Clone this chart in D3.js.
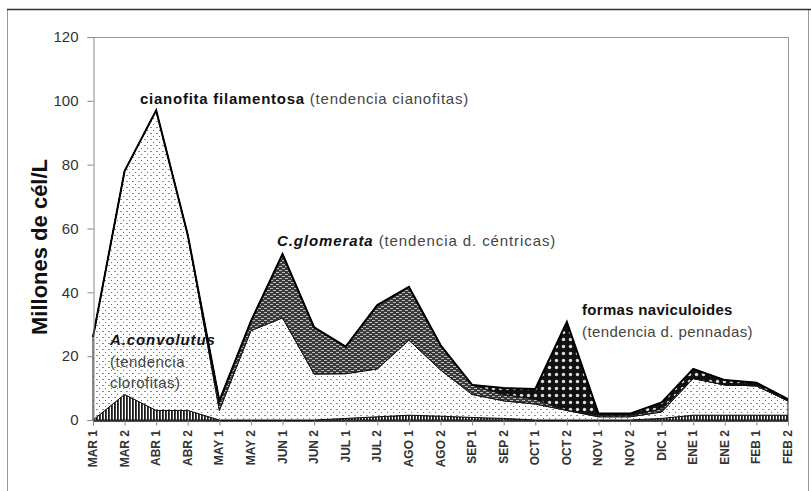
<!DOCTYPE html>
<html><head><meta charset="utf-8">
<script src="https://cdn.jsdelivr.net/npm/d3@7"></script>
<style>body{margin:0;background:#fff}svg{display:block;font-family:"Liberation Sans",Arial,sans-serif}</style>
</head><body><svg id="c" width="811" height="491"></svg>
<script>
const categories = ["MAR 1","MAR 2","ABR 1","ABR 2","MAY 1","MAY 2","JUN 1","JUN 2","JUL 1","JUL 2","AGO 1","AGO 2","SEP 1","SEP 2","OCT 1","OCT 2","NOV 1","NOV 2","DIC 1","ENE 1","ENE 2","FEB 1","FEB 2"];
const convolutus   = [0,8,3,3,0,0,0,0,0.5,1,1.5,1.2,0.8,0.5,0,0,0,0,0.5,1.5,1.5,1.5,1.5];
const cianofita    = [26,70,94,55,3,28,32,14.4,14,15,23.5,14.5,7.2,5.5,5,3,1,1,2,11.5,9.5,9.2,4.5];
const glomerata    = [0,0,0,0,3,3,20,14.6,8.5,20,16.7,7.8,3,2,1.5,0,0.5,0.5,1,0,0,0,0];
const naviculoides = [0,0,0,0,0,0,0,0,0,0,0,0,0,2,3.2,27.7,0.5,0.5,2,3,1.5,1,0.5];
const yTicks = [0,20,40,60,80,100,120];

const keys = ["convolutus","cianofita","glomerata","naviculoides"];
const seriesArr = {convolutus, cianofita, glomerata, naviculoides};
const rows = categories.map((c,i)=>{const r={cat:c}; keys.forEach(k=>r[k]=seriesArr[k][i]); return r;});

const svg = d3.select("#c");
const defs = svg.append("defs");
let p = defs.append("pattern").attr("id","pStripe").attr("patternUnits","userSpaceOnUse").attr("width",3).attr("height",4);
p.append("rect").attr("width",3).attr("height",4).attr("fill","#fff");
p.append("rect").attr("width",1.8).attr("height",4).attr("fill","#1a1a1a");
p = defs.append("pattern").attr("id","pDot").attr("patternUnits","userSpaceOnUse").attr("width",6).attr("height",6);
p.append("rect").attr("width",6).attr("height",6).attr("fill","#fff");
p.append("rect").attr("x",0).attr("y",1).attr("width",2).attr("height",1).attr("fill","#8a8a8a");
p.append("rect").attr("x",3).attr("y",4).attr("width",1).attr("height",1).attr("fill","#666");
p = defs.append("pattern").attr("id","pHatch").attr("patternUnits","userSpaceOnUse").attr("width",6).attr("height",4);
p.append("rect").attr("width",6).attr("height",4).attr("fill","#3a3a3a");
p.append("rect").attr("x",0).attr("y",0).attr("width",3).attr("height",1).attr("fill","#bbb");
p.append("rect").attr("x",3).attr("y",2).attr("width",3).attr("height",1).attr("fill","#bbb");
p = defs.append("pattern").attr("id","pCirc").attr("patternUnits","userSpaceOnUse").attr("width",7).attr("height",7);
p.append("rect").attr("width",7).attr("height",7).attr("fill","#111");
p.append("circle").attr("cx",3.5).attr("cy",3.5).attr("r",1.7).attr("fill","#ddd");
const fills = {convolutus:"url(#pStripe)", cianofita:"url(#pDot)", glomerata:"url(#pHatch)", naviculoides:"url(#pCirc)"};

svg.append("rect").attr("x",7.5).attr("y",9.5).attr("width",801).attr("height",495).attr("fill","none").attr("stroke","#999");
svg.append("line").attr("x1",7).attr("x2",811).attr("y1",9.5).attr("y2",9.5).attr("stroke","#333").attr("stroke-width",1.5);

const x = d3.scalePoint().domain(categories).range([93,788]).padding(0);
const y = d3.scaleLinear().domain([0,120]).range([420,37]);

const layers = d3.stack().keys(keys)(rows);
const area = d3.area().x(d=>x(d.data.cat)).y0(d=>y(d[0])).y1(d=>y(d[1]));
svg.append("g").selectAll("path").data(layers).join("path")
  .attr("d",area).attr("fill",d=>fills[d.key]).attr("stroke","#111").attr("stroke-width",1);
const topLayer = layers[layers.length-1];
svg.append("path").datum(topLayer).attr("d",d3.line().x(d=>x(d.data.cat)).y(d=>y(d[1])))
  .attr("fill","none").attr("stroke","#000").attr("stroke-width",2);

svg.append("line").attr("x1",93).attr("x2",788.5).attr("y1",37.5).attr("y2",37.5).attr("stroke","#999");
svg.append("line").attr("x1",788.5).attr("x2",788.5).attr("y1",37).attr("y2",420).attr("stroke","#999");

const ya = svg.append("g").attr("transform","translate(93.5,0)")
  .call(d3.axisLeft(y).tickValues(yTicks).tickSize(6).tickPadding(9));
ya.select(".domain").attr("stroke","#888");
ya.selectAll(".tick line").attr("stroke","#888");
ya.selectAll("text").attr("font-size",15).attr("fill","#333").attr("font-family","Liberation Sans, Arial, sans-serif");

const xa = svg.append("g").attr("transform","translate(0,420.5)")
  .call(d3.axisBottom(x).tickSize(5).tickSizeOuter(0).tickFormat(()=>""));
xa.select(".domain").attr("stroke","#111").attr("stroke-width",1.5);
xa.selectAll(".tick line").attr("stroke","#888");
svg.append("g").selectAll("text").data(categories).join("text")
  .attr("transform",d=>`translate(${x(d)+4},430) rotate(-90)`)
  .attr("text-anchor","end").attr("font-size",12).attr("font-weight","bold").attr("fill","#333")
  .attr("font-family","Liberation Sans Narrow, Liberation Sans, Arial, sans-serif")
  .text(d=>d);

svg.append("text").attr("transform","translate(47,247) rotate(-90)").attr("text-anchor","middle")
  .attr("font-size",22).attr("font-weight","bold").attr("fill","#111").text("Millones de cél/L");

function ann(xp, yp, parts, ls){
  const t = svg.append("text").attr("x",xp).attr("y",yp).attr("font-size",15).attr("fill","#222")
    .attr("letter-spacing",ls);
  parts.forEach(pp=>{
    t.append("tspan").text(pp.t).attr("font-weight",pp.b?"bold":"normal").attr("font-style",pp.i?"italic":"normal")
      .attr("fill",pp.b?"#111":"#444");
  });
}
ann(140,104,[{t:"cianofita filamentosa",b:1},{t:" (tendencia cianofitas)"}],0.75);
ann(277,246,[{t:"C.glomerata",b:1,i:1},{t:"  (tendencia d. céntricas)"}],0.9);
ann(110,345,[{t:"A.convolutus",b:1,i:1}],0.9);
ann(110,367,[{t:"(tendencia"}],0.5);
ann(110,388,[{t:"clorofitas)"}],0.5);
ann(582,315,[{t:"formas naviculoides",b:1}],0.3);
ann(582,337,[{t:"(tendencia d. pennadas)"}],0.4);
</script></body></html>
